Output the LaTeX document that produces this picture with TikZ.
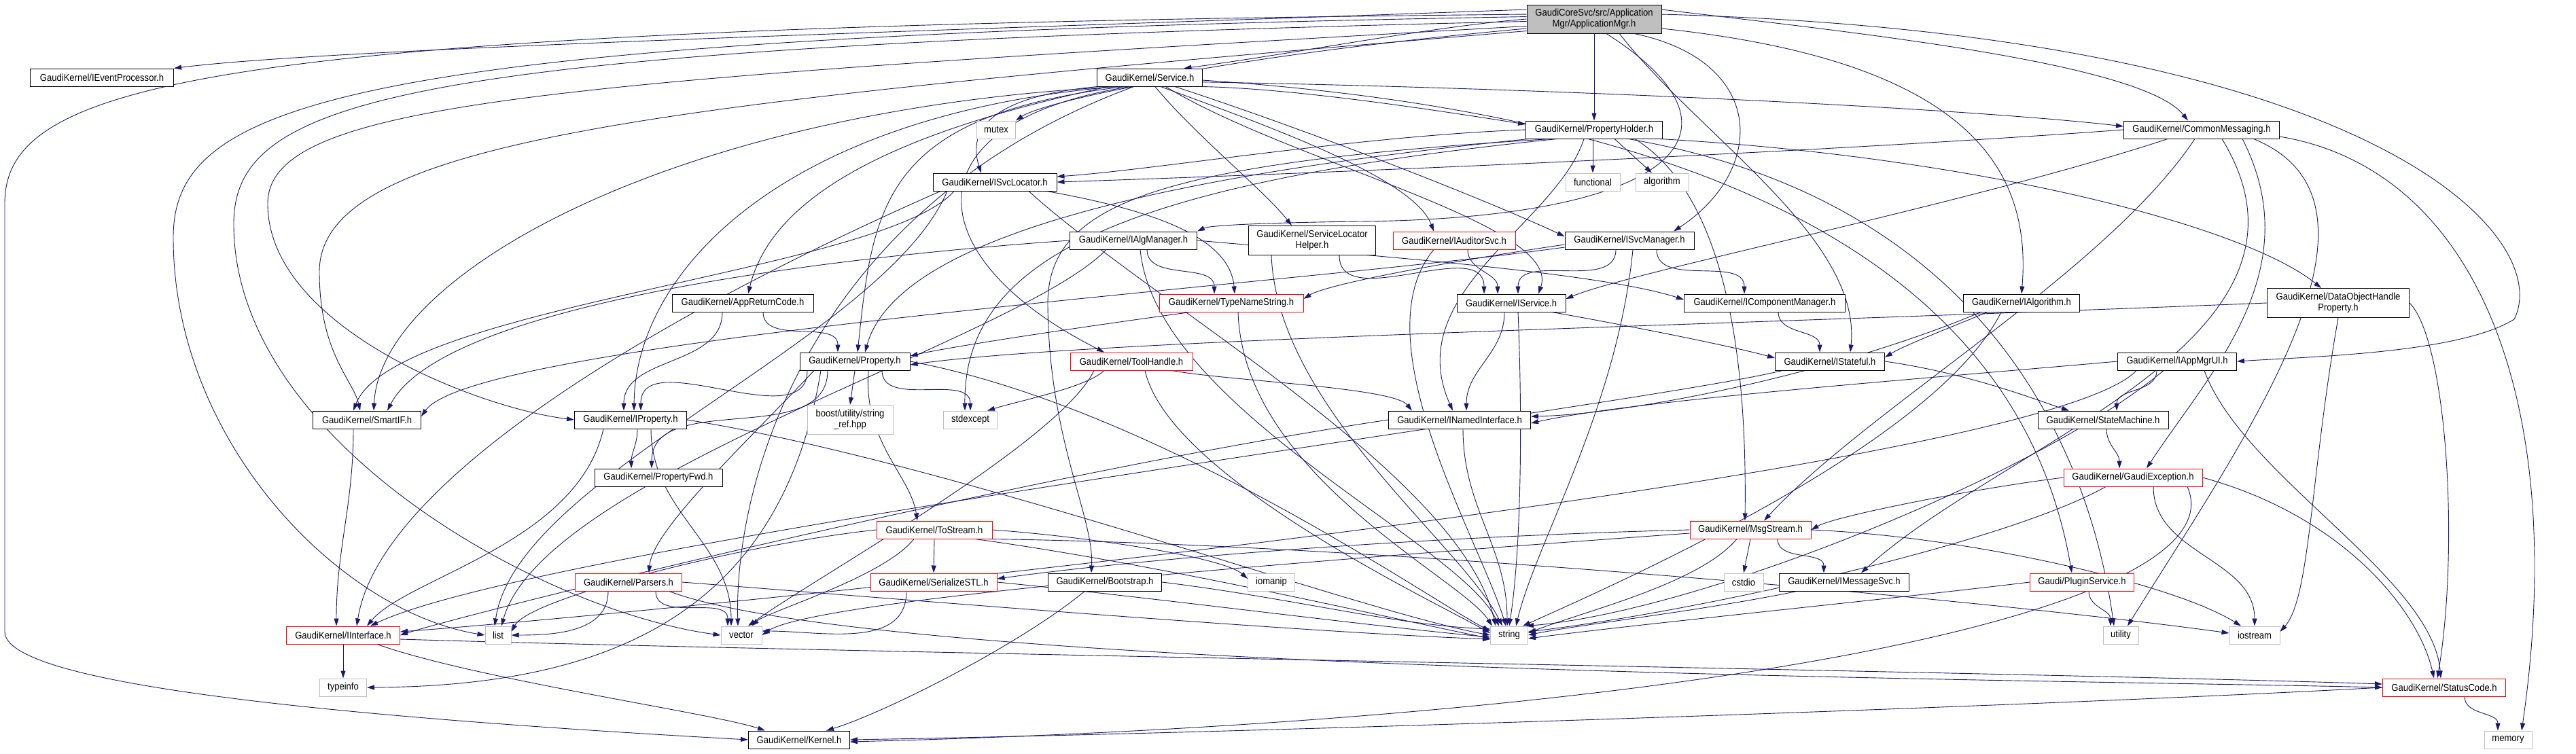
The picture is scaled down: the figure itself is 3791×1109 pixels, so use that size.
\documentclass[tikz,border=0pt]{standalone}
\usepackage{fontspec}
\newfontfamily\dxfont[FakeStretch=0.9]{Liberation Sans}
\usetikzlibrary{arrows.meta,positioning}
\definecolor{edgeblue}{HTML}{191970}
\definecolor{sysgray}{HTML}{BFBFBF}
\pgfdeclarelayer{bg}
\pgfsetlayers{bg,main}
\tikzset{
  hdr/.style={draw=black, fill=white, line width=1pt, minimum height=26pt, inner xsep=3pt, inner ysep=1pt,
    font=\dxfont\fontsize{14.5pt}{16pt}\selectfont, align=center},
  trunc/.style={hdr, draw=red},
  sysh/.style={hdr, draw=sysgray},
  rootbox/.style={hdr, fill=sysgray},
  dep/.style={draw=edgeblue, line width=0.9pt, -{Triangle[length=11pt,width=7pt]}}
}
\begin{document}
\begin{tikzpicture}[x=1pt, y=-1pt]
    \useasboundingbox (0,0) rectangle (3791,1109);

    % 1. Header files (rank by rank)
    \node[rootbox, minimum width=198pt, minimum height=42pt] (root) at (2346,28) {GaudiCoreSvc/src/Application\\Mgr/ApplicationMgr.h};

    \node[hdr, minimum width=211pt] (evp) at (150,114) {GaudiKernel/IEventProcessor.h};
    \node[hdr, minimum width=155pt] (svc) at (1692,114) {GaudiKernel/Service.h};

    \node[sysh, minimum width=57pt] (mutex) at (1466,191) {mutex};
    \node[hdr, minimum width=201pt] (ph) at (2346,191) {GaudiKernel/PropertyHolder.h};
    \node[hdr, minimum width=229pt] (cm) at (3240,191) {GaudiKernel/CommonMessaging.h};

    \node[hdr, minimum width=182pt] (isl) at (1464,268) {GaudiKernel/ISvcLocator.h};
    \node[sysh, minimum width=80pt] (func) at (2344,268) {functional};
    \node[sysh, minimum width=78pt] (algo) at (2446,268) {algorithm};

    \node[hdr, minimum width=187pt] (iam) at (1668,354) {GaudiKernel/IAlgManager.h};
    \node[hdr, minimum width=187pt, minimum height=43pt] (slh) at (1931,354) {GaudiKernel/ServiceLocator\\Helper.h};
    \node[trunc, minimum width=180pt] (ias) at (2140,354) {GaudiKernel/IAuditorSvc.h};
    \node[hdr, minimum width=190pt] (ism) at (2398,354) {GaudiKernel/ISvcManager.h};

    \node[hdr, minimum width=208pt] (arc) at (1093,446) {GaudiKernel/AppReturnCode.h};
    \node[trunc, minimum width=212pt] (tns) at (1812,446) {GaudiKernel/TypeNameString.h};
    \node[hdr, minimum width=160pt] (isv) at (2224,446) {GaudiKernel/IService.h};
    \node[hdr, minimum width=237pt] (icm) at (2597,446) {GaudiKernel/IComponentManager.h};
    \node[hdr, minimum width=171pt] (ialg) at (2975,446) {GaudiKernel/IAlgorithm.h};
    \node[hdr, minimum width=209pt, minimum height=43pt] (dohp) at (3441,446) {GaudiKernel/DataObjectHandle\\Property.h};

    \node[hdr, minimum width=162pt] (prop) at (1258,532) {GaudiKernel/Property.h};
    \node[trunc, minimum width=180pt] (th) at (1665,532) {GaudiKernel/ToolHandle.h};
    \node[hdr, minimum width=161pt] (ist) at (2693,532) {GaudiKernel/IStateful.h};
    \node[hdr, minimum width=175pt] (iamu) at (3204,532) {GaudiKernel/IAppMgrUI.h};

    \node[hdr, minimum width=159pt] (sif) at (540,618) {GaudiKernel/SmartIF.h};
    \node[hdr, minimum width=165pt] (iprop) at (928,618) {GaudiKernel/IProperty.h};
    \node[sysh, minimum width=126pt, minimum height=43pt] (sref) at (1251,618) {boost/utility/string\\\_ref.hpp};
    \node[sysh, minimum width=79pt] (stdex) at (1428,618) {stdexcept};
    \node[hdr, minimum width=209pt] (ini) at (2148,618) {GaudiKernel/INamedInterface.h};
    \node[hdr, minimum width=192pt] (sm) at (3095,618) {GaudiKernel/StateMachine.h};

    \node[hdr, minimum width=188pt] (pfwd) at (969,703) {GaudiKernel/PropertyFwd.h};
    \node[trunc, minimum width=204pt] (gex) at (3139,703) {GaudiKernel/GaudiException.h};

    \node[trunc, minimum width=170pt] (tos) at (1375,780) {GaudiKernel/ToStream.h};
    \node[trunc, minimum width=178pt] (msg) at (2576,780) {GaudiKernel/MsgStream.h};

    \node[trunc, minimum width=157pt] (pars) at (925,857) {GaudiKernel/Parsers.h};
    \node[trunc, minimum width=186pt] (sstl) at (1374,857) {GaudiKernel/SerializeSTL.h};
    \node[hdr, minimum width=167pt] (boot) at (1626,857) {GaudiKernel/Bootstrap.h};
    \node[sysh, minimum width=69pt] (iom) at (1871,857) {iomanip};
    \node[sysh, minimum width=58pt] (cstdio) at (2566,857) {cstdio};
    \node[hdr, minimum width=191pt] (imsg) at (2714,857) {GaudiKernel/IMessageSvc.h};
    \node[trunc, minimum width=153pt] (plug) at (3064,857) {Gaudi/PluginService.h};

    \node[trunc, minimum width=167pt] (iif) at (505,935) {GaudiKernel/IInterface.h};
    \node[sysh, minimum width=38pt] (list) at (733,935) {list};
    \node[sysh, minimum width=60pt] (vector) at (1091,935) {vector};
    \node[sysh, minimum width=55pt] (string) at (2221,935) {string};
    \node[sysh, minimum width=52pt] (utility) at (3121,935) {utility};
    \node[sysh, minimum width=74pt] (iostream) at (3318,935) {iostream};

    \node[sysh, minimum width=69pt] (typeinfo) at (505,1012) {typeinfo};
    \node[trunc, minimum width=181pt] (sc) at (3597,1012) {GaudiKernel/StatusCode.h};

    \node[hdr, minimum width=149pt] (kern) at (1176,1089) {GaudiKernel/Kernel.h};
    \node[sysh, minimum width=70pt] (memory) at (3691,1089) {memory};

    \begin{pgfonlayer}{bg}
    % 2. Includes of ApplicationMgr.h
    \draw[dep] (root.172) .. controls (1400,45) and (500,70) .. (evp.north east);
    \draw[dep] (root.180) .. controls (2100,40) and (1900,80) .. (svc.15);
    \draw[dep] (root.south) -- (ph.north);
    \draw[dep] (root.8) .. controls (2700,45) and (3150,90) .. ([xshift=-20pt]cm.north);
    \draw[dep] (root.-20) .. controls (2600,90) and (2600,250) .. ([xshift=65pt]ism.north);
    \draw[dep] (root.-50) .. controls (2600,200) and (2450,322) .. (2000,326) .. controls (1850,328) and (1780,332) .. (iam.north east);
    \draw[dep] (root.188) .. controls (1500,110) and (1150,230) .. ([xshift=8pt]arc.north);
    \draw[dep] (root.-8) .. controls (2900,90) and (2990,250) .. (ialg.north);
    \draw[dep] (root.4) .. controls (3500,50) and (3760,350) .. (3700,470) .. controls (3620,520) and (3400,525) .. (iamu.east);
    \draw[dep] (root.-30) .. controls (2500,200) and (2740,350) .. ([xshift=30pt]ist.north);
    \draw[dep] (root.176) .. controls (300,40) and (7,120) .. (7,300) -- (7,930) .. controls (7,1000) and (400,1050) .. (kern.west);
    \draw[dep] (root.178) .. controls (500,55) and (255,150) .. (255,350) .. controls (255,650) and (500,900) .. (list.west);
    \draw[dep] (root.182) .. controls (600,70) and (344,140) .. (344,330) .. controls (344,650) and (800,900) .. (vector.west);
    \draw[dep] (root.186) .. controls (800,120) and (394,150) .. (394,300) .. controls (394,480) and (700,600) .. (iprop.west);
    \draw[dep] (root.190) .. controls (1000,150) and (470,200) .. (470,400) .. controls (470,520) and (520,560) .. ([xshift=-10pt]sif.north);

    % 3. Service.h
    \draw[dep] (svc.-150) .. controls (1600,140) and (1520,160) .. (mutex.north east);
    \draw[dep] (svc.-10) .. controls (1900,130) and (2100,160) .. ([yshift=8pt]ph.west);
    \draw[dep] (svc.-5) .. controls (2300,130) and (2900,160) .. ([yshift=5pt]cm.west);
    \draw[dep] (svc.190) .. controls (1480,140) and (1420,180) .. ([xshift=-20pt]isl.north);
    \draw[dep] (svc.-60) .. controls (1760,200) and (1860,280) .. ([xshift=-30pt]slh.north);
    \draw[dep] (svc.-40) .. controls (1850,180) and (2080,260) .. ([xshift=-30pt]ias.north);
    \draw[dep] (svc.-20) .. controls (1950,200) and (2200,300) .. ([yshift=6pt]ism.west);
    \draw[dep] (svc.-30) .. controls (1900,240) and (2300,330) .. ([xshift=40pt]isv.north);
    \draw[dep] (svc.200) .. controls (1300,170) and (1285,300) .. ([xshift=4pt]prop.north);
    \draw[dep] (svc.205) .. controls (1330,180) and (1350,380) .. ([xshift=-40pt]th.north);
    \draw[dep] (svc.195) .. controls (1150,170) and (935,400) .. ([xshift=5pt]iprop.north);
    \draw[dep] (svc.197) .. controls (1000,160) and (560,400) .. ([xshift=10pt]sif.north);
    \draw[dep] (svc.-3) .. controls (2700,180) and (2990,500) .. ([xshift=-15pt]plug.north);
    \draw[dep] (svc.210) .. controls (1200,300) and (1080,700) .. ([xshift=-5pt]vector.north);

    % 4. PropertyHolder.h
    \draw[dep] (ph.west) .. controls (2000,200) and (1700,250) .. ([yshift=8pt]isl.east);
    \draw[dep] ([xshift=-2pt]ph.south) -- (func.north);
    \draw[dep] ([xshift=30pt]ph.south) -- ([xshift=-15pt]algo.north);
    \draw[dep] (ph.-8) .. controls (2900,230) and (3300,330) .. ([xshift=-25pt]dohp.north);
    \draw[dep] (ph.188) .. controls (1700,260) and (1320,350) .. ([xshift=15pt]prop.north);
    \draw[dep] ([xshift=-15pt]ph.south) .. controls (2290,330) and (2060,430) .. ([xshift=-10pt]ini.north);
    \draw[dep] ([xshift=60pt]ph.south) .. controls (2560,300) and (2570,600) .. ([xshift=-8pt]msg.north);
    \draw[dep] (ph.192) .. controls (1700,240) and (1540,300) .. (1542,450) .. controls (1544,650) and (1610,760) .. ([xshift=-20pt]boot.north);
    \draw[dep] (ph.194) .. controls (1650,270) and (1418,380) .. ([xshift=-8pt]stdex.north);
    \draw[dep] (ph.-15) .. controls (2950,300) and (3080,700) .. ([xshift=-10pt]utility.north);

    % 5. CommonMessaging.h
    \draw[dep] (cm.west) .. controls (2600,230) and (1800,260) .. (isl.east);
    \draw[dep] ([xshift=-50pt]cm.south) .. controls (2900,300) and (2400,400) .. ([yshift=6pt]isv.east);
    \draw[dep] ([xshift=-10pt]cm.south) .. controls (3100,400) and (2750,600) .. ([xshift=20pt]msg.north);
    \draw[dep] ([xshift=30pt]cm.south) .. controls (3450,500) and (2950,650) .. ([xshift=25pt]imsg.north);
    \draw[dep] ([xshift=60pt]cm.south) .. controls (3400,400) and (3250,550) .. ([xshift=20pt]gex.north);
    \draw[dep] (cm.-5) .. controls (3650,250) and (3780,600) .. ([xshift=20pt]memory.north);
    \draw[dep] (cm.-10) .. controls (3550,300) and (3300,650) .. ([xshift=10pt]utility.north);

    % 6. ISvcLocator.h, IAlgManager.h, ServiceLocatorHelper.h, IAuditorSvc.h, ISvcManager.h
    \draw[dep] (isl.-10) .. controls (1700,310) and (1810,350) .. ([xshift=5pt]tns.north);
    \draw[dep] ([xshift=-60pt]isl.south) .. controls (1300,400) and (580,450) .. ([xshift=-20pt]sif.north);
    \draw[dep] ([xshift=-80pt]isl.south) .. controls (1000,450) and (560,700) .. ([xshift=20pt]iif.north);
    \draw[dep] ([xshift=-70pt]isl.south) .. controls (1300,500) and (760,700) .. ([xshift=-5pt]list.north);
    \draw[dep] ([xshift=50pt]isl.south) .. controls (1700,450) and (2150,700) .. ([xshift=-20pt]string.north);
    \draw[dep] ([xshift=20pt]iam.south) to[out=-90,in=90] ([xshift=-25pt]tns.north);
    \draw[dep] (iam.east) .. controls (2000,375) and (2350,400) .. ([yshift=5pt]icm.west);
    \draw[dep] (iam.west) .. controls (1200,380) and (650,450) .. ([xshift=30pt]sif.north);
    \draw[dep] ([xshift=-40pt]iam.south) .. controls (1500,500) and (800,700) .. ([xshift=5pt]list.north);
    \draw[dep] ([xshift=10pt]iam.south) .. controls (1700,600) and (2150,800) .. ([xshift=-15pt]string.north);
    \draw[dep] ([xshift=40pt]slh.south) to[out=-90,in=90] ([xshift=-40pt]isv.north);
    \draw[dep] ([xshift=-60pt]slh.south) .. controls (1880,600) and (2150,800) .. ([xshift=-10pt]string.north);
    \draw[dep] ([xshift=20pt]ias.south) to[out=-90,in=90] ([xshift=-20pt]isv.north);
    \draw[dep] ([xshift=-30pt]ias.south) .. controls (2000,500) and (2180,800) .. ([xshift=-5pt]string.north);
    \draw[dep] ([yshift=-6pt]ism.west) .. controls (2100,390) and (1950,420) .. ([yshift=6pt]tns.east);
    \draw[dep] ([xshift=-20pt]ism.south) to[out=-90,in=90] ([xshift=10pt]isv.north);
    \draw[dep] ([xshift=40pt]ism.south) to[out=-90,in=90] ([xshift=-30pt]icm.north);
    \draw[dep] ([yshift=-10pt]ism.west) .. controls (1900,420) and (700,500) .. ([yshift=5pt]sif.east);
    \draw[dep] ([xshift=5pt]ism.south) .. controls (2380,600) and (2260,800) .. ([xshift=10pt]string.north);

    % 7. rank of AppReturnCode.h ... DataObjectHandleProperty.h
    \draw[dep] ([xshift=30pt]arc.south) to[out=-90,in=90] ([xshift=-25pt]prop.north);
    \draw[dep] ([xshift=-30pt]arc.south) to[out=-90,in=90] ([xshift=-10pt]iprop.north);
    \draw[dep] ([xshift=-60pt]tns.south) .. controls (1600,480) and (1400,510) .. ([yshift=8pt]prop.east);
    \draw[dep] ([xshift=10pt]tns.south) .. controls (1830,700) and (2150,850) .. ([xshift=-25pt]string.north);
    \draw[dep] ([xshift=60pt]isv.south) .. controls (2400,480) and (2550,510) .. ([yshift=5pt]ist.west);
    \draw[dep] ([xshift=-10pt]isv.south) to[out=-90,in=90] ([xshift=10pt]ini.north);
    \draw[dep] ([xshift=10pt]isv.south) .. controls (2240,600) and (2240,800) .. (string.north);
    \draw[dep] ([xshift=20pt]icm.south) to[out=-90,in=90] ([xshift=-15pt]ist.north);
    \draw[dep] ([xshift=-50pt]ialg.south) .. controls (2850,490) and (2800,510) .. ([yshift=6pt]ist.east);
    \draw[dep] ([xshift=-60pt]ialg.south) .. controls (2700,550) and (2400,610) .. ([yshift=5pt]ini.east);
    \draw[dep] ([xshift=-30pt]ialg.south) .. controls (2850,650) and (2400,850) .. ([xshift=20pt]string.north);
    \draw[dep] (dohp.west) .. controls (2500,480) and (1600,500) .. ([yshift=-5pt]prop.east);
    \draw[dep] (dohp.south) .. controls (3400,700) and (3400,880) .. ([yshift=5pt]iostream.east);
    \draw[dep] (dohp.east) .. controls (3600,500) and (3620,800) .. ([xshift=-10pt]sc.north);

    % 8. Property.h, ToolHandle.h, IStateful.h, IAppMgrUI.h
    \draw[dep] (prop.south) -- (sref.north);
    \draw[dep] ([xshift=40pt]prop.south) to[out=-90,in=90] (stdex.north);
    \draw[dep] ([xshift=-40pt]prop.south) to[out=-90,in=90] ([xshift=-10pt]pfwd.north);
    \draw[dep] ([xshift=20pt]prop.south) .. controls (1270,650) and (1340,700) .. ([xshift=-25pt]tos.north);
    \draw[dep] ([xshift=-60pt]prop.south) .. controls (1100,650) and (960,780) .. ([xshift=30pt]pars.north);
    \draw[dep] (prop.east) .. controls (1700,600) and (2100,880) .. ([yshift=6pt]string.west);
    \draw[dep] ([xshift=-50pt]prop.south) .. controls (1150,900) and (900,1010) .. (typeinfo.east);
    \draw[dep] ([xshift=-70pt]prop.south) to[out=-90,in=90] ([xshift=15pt]iprop.north);
    \draw[dep] ([xshift=60pt]th.south) .. controls (1800,560) and (2050,570) .. ([xshift=-70pt]ini.north);
    \draw[dep] ([xshift=-40pt]th.south) .. controls (1600,570) and (1500,590) .. ([xshift=25pt]stdex.north);
    \draw[dep] ([xshift=-55pt]th.south) .. controls (1560,650) and (1200,850) .. ([xshift=10pt]vector.north);
    \draw[dep] ([xshift=20pt]th.south) .. controls (1720,700) and (2100,880) .. ([yshift=3pt]string.west);
    \draw[dep] (ist.east) .. controls (2900,550) and (3000,590) .. ([xshift=-50pt]sm.north);
    \draw[dep] ([xshift=-70pt]ist.south) .. controls (2400,600) and (800,800) .. ([xshift=40pt]iif.north);
    \draw[dep] ([xshift=-30pt]iamu.south) to[out=-90,in=90] ([xshift=20pt]sm.north);
    \draw[dep] (iamu.west) .. controls (2800,560) and (2400,590) .. ([yshift=-5pt]ini.east);
    \draw[dep] ([xshift=40pt]iamu.south) .. controls (3300,700) and (3580,850) .. ([xshift=-5pt]sc.north);
    \draw[dep] ([xshift=-60pt]iamu.south) .. controls (3000,700) and (1000,900) .. ([yshift=5pt]iif.east);
    \draw[dep] ([xshift=-20pt]iamu.south) .. controls (3000,700) and (2500,900) .. ([xshift=25pt]string.north);

    % 9. SmartIF.h ... StateMachine.h
    \draw[dep] ([xshift=-20pt]sif.south) to[out=-90,in=90] ([xshift=-10pt]iif.north);
    \draw[dep] ([xshift=-40pt]iprop.south) .. controls (850,800) and (600,850) .. ([xshift=35pt]iif.north);
    \draw[dep] ([xshift=10pt]iprop.south) to[out=-90,in=90] ([xshift=-40pt]pfwd.north);
    \draw[dep] ([xshift=30pt]iprop.south) to[out=-90,in=90] ([xshift=-15pt]vector.north);
    \draw[dep] (iprop.east) .. controls (1400,680) and (2000,900) .. (string.west);
    \draw[dep] (ini.west) .. controls (1500,700) and (700,900) .. (iif.east);
    \draw[dep] ([xshift=5pt]ini.south) to[out=-90,in=90] ([xshift=-3pt]string.north);
    \draw[dep] ([xshift=5pt]sm.south) to[out=-90,in=90] ([xshift=-20pt]gex.north);

    % 10. GaudiException.h
    \draw[dep] (gex.west) .. controls (2900,720) and (2700,760) .. (msg.east);
    \draw[dep] ([xshift=30pt]gex.south) to[out=-90,in=90] (iostream.north);
    \draw[dep] (gex.east) .. controls (3450,760) and (3560,900) .. ([xshift=-15pt]sc.north);
    \draw[dep] ([xshift=-40pt]gex.south) .. controls (2950,800) and (2500,900) .. ([yshift=5pt]string.east);
    \draw[dep] ([xshift=80pt]gex.south) .. controls (3300,900) and (2500,1060) .. ([yshift=-3pt]kern.east);

    % 11. ToStream.h, MsgStream.h
    \draw[dep] (tos.south) -- (sstl.north);
    \draw[dep] (tos.east) .. controls (1600,790) and (1800,820) .. ([yshift=5pt]iom.west);
    \draw[dep] ([xshift=-30pt]tos.south) .. controls (1300,850) and (1130,900) .. ([xshift=15pt]vector.north);
    \draw[dep] (tos.west) .. controls (1100,800) and (780,880) .. ([yshift=5pt]list.east);
    \draw[dep] ([xshift=60pt]tos.south) .. controls (1700,830) and (2000,900) .. ([yshift=-5pt]string.west);
    \draw[dep] (tos.-10) .. controls (2000,800) and (2900,880) .. ([yshift=3pt]iostream.west);
    \draw[dep] (msg.south) -- (cstdio.north);
    \draw[dep] ([xshift=40pt]msg.south) to[out=-90,in=90] ([xshift=-30pt]imsg.north);
    \draw[dep] (msg.west) .. controls (2100,790) and (1700,820) .. ([yshift=5pt]sstl.east);
    \draw[dep] ([xshift=-20pt]msg.south) .. controls (2500,860) and (2330,900) .. ([yshift=3pt]string.east);
    \draw[dep] (msg.east) .. controls (2900,790) and (3200,860) .. ([xshift=-20pt]iostream.north);
    \draw[dep] ([yshift=-5pt]msg.west) .. controls (2000,820) and (1200,880) .. (vector.east);

    % 12. Parsers.h ... PluginService.h
    \draw[dep] ([xshift=-30pt]pars.south) to[out=-90,in=0] (list.east);
    \draw[dep] ([xshift=40pt]pars.south) to[out=-90,in=90] ([xshift=-20pt]vector.north);
    \draw[dep] (pars.east) .. controls (1300,880) and (1900,930) .. ([yshift=-6pt]string.west);
    \draw[dep] ([xshift=60pt]pars.south) .. controls (1300,990) and (3000,1000) .. (sc.west);
    \draw[dep] ([xshift=-40pt]sstl.south) to[out=-90,in=0] ([yshift=6pt]vector.east);
    \draw[dep] (sstl.east) .. controls (1700,880) and (2000,920) .. ([yshift=-3pt]string.west);
    \draw[dep] ([xshift=-30pt]boot.south) .. controls (1500,950) and (1300,1050) .. ([xshift=40pt]kern.north);
    \draw[dep] (boot.east) .. controls (1900,880) and (2050,920) .. ([yshift=9pt]string.west);
    \draw[dep] ([xshift=-70pt]imsg.south) .. controls (2500,900) and (2320,920) .. (string.east);
    \draw[dep] ([xshift=10pt]plug.south) to[out=-90,in=90] ([xshift=-15pt]utility.north);
    \draw[dep] (plug.west) .. controls (2800,880) and (2400,920) .. ([yshift=-5pt]string.east);

    % 13. IInterface.h, StatusCode.h
    \draw[dep] (iif.south) -- (typeinfo.north);
    \draw[dep] ([xshift=50pt]iif.south) .. controls (700,1000) and (1050,1050) .. ([xshift=-50pt]kern.north);
    \draw[dep] ([yshift=-6pt]iif.east) .. controls (1200,960) and (3000,990) .. ([yshift=5pt]sc.west);
    \draw[dep] ([xshift=30pt]sc.south) to[out=-90,in=90] ([xshift=-15pt]memory.north);
    \draw[dep] (sc.west) .. controls (3000,1040) and (1800,1080) .. (kern.east);
    \end{pgfonlayer}

\end{tikzpicture}
\end{document}
